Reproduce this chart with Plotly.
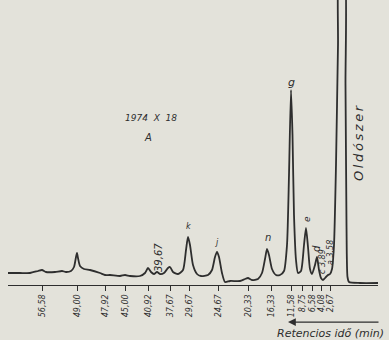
import plotly.graph_objects as go

# Detector trace: position along chart axis and signal height (arbitrary units)
pos = [8, 20, 30, 38, 42, 46, 55, 62, 66, 71, 74, 76, 77, 78, 80, 84, 90, 100, 105, 110,
       120, 125, 130, 140, 145, 148, 151, 154, 157, 160, 164, 168, 170, 173, 178, 183, 186,
       188, 190, 193, 197, 201, 208, 212, 215, 217, 219, 222, 225, 230, 240, 245, 248, 252,
       258, 262, 265, 267, 269, 272, 276, 280, 284, 287, 289, 291, 292.5, 294, 296, 298,
       301, 304, 306, 308, 310, 312, 315, 317, 319, 321, 323, 326, 328, 330, 332, 334, 336,
       338, 339.5, 344, 345.5, 346.5, 347.5, 349, 360, 378]
signal = [12, 12, 12, 14, 15, 13, 13, 14, 13, 14, 18, 28, 32, 27, 19, 16, 15, 12, 10, 10,
          9, 10, 9, 9, 12, 17, 13, 11, 13, 11, 12, 17, 18, 13, 11, 15, 35,
          48, 40, 20, 11, 9, 10, 15, 28, 33, 28, 12, 3, 4, 4, 6, 7, 5,
          6, 12, 26, 36, 30, 16, 10, 10, 14, 40, 110, 195, 150, 70, 25, 12,
          14, 40, 57, 38, 16, 11, 20, 28, 15, 7, 5, 8, 10, 11, 16, 40, 120,
          240, 320, 320, 200, 60, 8, 3, 2, 2]

tick_pos = [42, 77, 105, 125, 148, 170, 189, 218, 248, 271, 291, 302, 312, 321, 330]
tick_labels = ["56,58", "49,00", "47,92", "45,00", "40,92", "37,67", "29,67", "24,67",
               "20,33", "16,33", "11,58", "8,75", "6,58", "4,08", "2,67"]

peak_labels = ["g", "n", "e", "d", "k", "j", "39,67", "c 3,89", "a 3,58",
               "O\u2009l\u2009d\u2009ó\u2009s\u2009z\u2009e\u2009r"]
label_pos = [291, 268, 307, 316, 188, 217, 158, 322, 330, 358]
label_sig = [203, 48, 66, 36, 59, 43, 27, 23, 32, 142]
label_angle = [0, 0, -90, -90, 0, 0, -90, -90, -90, -90]
label_size = [11, 10, 9, 10, 8, 8, 10, 8, 8, 13]

ink = "#2e2e2e"
paper = "#e3e2da"
fnt = "DejaVu Sans"

fig = go.Figure()
fig.add_trace(go.Scatter(x=pos, y=signal, mode="lines",
                         line=dict(color=ink, width=1.8, shape="spline", smoothing=0.6),
                         hoverinfo="skip"))

for t, xp, yp, a, s in zip(peak_labels, label_pos, label_sig, label_angle, label_size):
    fig.add_annotation(x=xp, y=yp, text=t, showarrow=False, textangle=a,
                       font=dict(family=fnt, size=s, color=ink, style="italic"))

fig.add_annotation(x=151, y=167, text="1974  X  18", showarrow=False,
                   font=dict(family=fnt, size=9, color=ink, style="italic"))
fig.add_annotation(x=148, y=148, text="A", showarrow=False,
                   font=dict(family=fnt, size=10, color=ink, style="italic"))

# time direction arrow and axis title (below the axis, paper-referenced)
fig.add_annotation(x=288, y=-0.13, xref="x", yref="paper", ax=92, ay=0,
                   showarrow=True, arrowhead=2, arrowsize=1.2, arrowwidth=1.3,
                   arrowcolor=ink, text="")
fig.add_annotation(x=1.022, y=-0.142, xref="paper", yref="paper",
                   text="Retencios idő (min)", showarrow=False,
                   xanchor="right", yanchor="top",
                   font=dict(family=fnt, size=11, color=ink, style="italic"))

fig.update_layout(
    width=389, height=340,
    margin=dict(l=8, r=11, t=0, b=55),
    paper_bgcolor=paper, plot_bgcolor=paper,
    showlegend=False,
    xaxis=dict(range=[8, 378], showgrid=False, zeroline=False, showline=True,
               linecolor=ink, linewidth=1.3, ticks="outside", ticklen=5, tickwidth=1,
               tickcolor=ink, tickvals=tick_pos, ticktext=tick_labels, tickangle=-90,
               tickfont=dict(family=fnt, size=8, color=ink, style="italic")),
    yaxis=dict(range=[0, 285], visible=False),
)
fig.write_html("out.html")
